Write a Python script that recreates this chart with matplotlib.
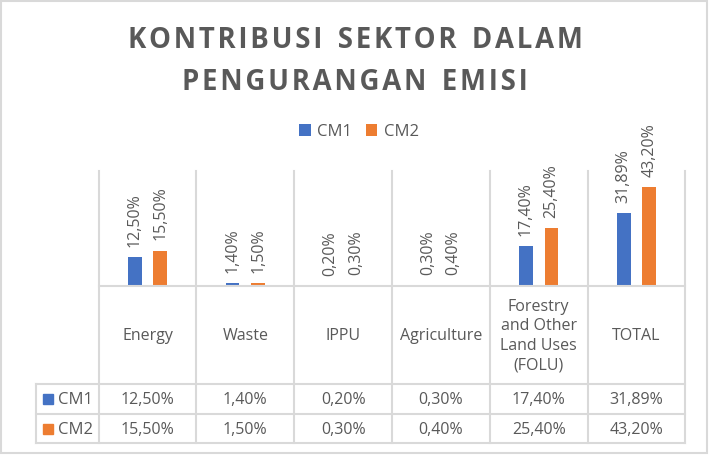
import matplotlib.pyplot as plt
from matplotlib.patches import Rectangle
from matplotlib.transforms import blended_transform_factory

title_lines = ["KONTRIBUSI SEKTOR DALAM", "PENGURANGAN EMISI"]
categories = ["Energy", "Waste", "IPPU", "Agriculture",
              "Forestry\nand Other\nLand Uses\n(FOLU)", "TOTAL"]
cm1 = [12.50, 1.40, 0.20, 0.30, 17.40, 31.89]
cm2 = [15.50, 1.50, 0.30, 0.40, 25.40, 43.20]
series_names = ["CM1", "CM2"]
colors = ["#4472C4", "#ED7D31"]
text_color = "#595959"
line_color = "#D9D9D9"


def pct(v):
    return f"{v:.2f}%".replace(".", ",")


def tracked(s):
    # wide letter spacing like the Excel title
    return "\u200a".join(s).replace(" ", " \u200a")


plt.rcParams["font.family"] = ["Open Sans", "DejaVu Sans"]

W, H = 710, 456
fig = plt.figure(figsize=(W / 100, H / 100), dpi=100)

# outer chart border
fig.patches.append(Rectangle((1.5 / W, 2.5 / H), 705.5 / W, 451.5 / H,
                             transform=fig.transFigure, fill=False,
                             edgecolor=line_color, linewidth=1.5))

for line, yc in zip(title_lines, (41, 83)):
    fig.text(0.5, 1 - yc / H, tracked(line), ha="center", va="center",
             fontsize=19.8, fontweight="bold", color=text_color)

# plot area
left, right, top, base = 98.7, 685.3, 172, 287.3
ax = fig.add_axes([left / W, 1 - base / H, (right - left) / W, (base - top) / H])
ax.set_xlim(-0.5, len(categories) - 0.5)
ax.set_ylim(0, 50)
ax.axis("off")

x = list(range(len(categories)))
width = 0.14
off = 0.13
for vals, dx, c, name in [(cm1, -off, colors[0], series_names[0]),
                          (cm2, off, colors[1], series_names[1])]:
    xs = [i + dx for i in x]
    ax.bar(xs, vals, width=width, color=c, label=name)
    for xi, v in zip(xs, vals):
        ax.annotate(pct(v), (xi, v), xytext=(0, 8), textcoords="offset points",
                    rotation=90, ha="center", va="bottom", fontsize=11.5,
                    color=text_color, annotation_clip=False)

leg = fig.legend(loc="center", bbox_to_anchor=(359 / W, 1 - 132.5 / H),
                 ncol=2, frameon=False, fontsize=12, handlelength=0.7,
                 handleheight=0.7, handletextpad=0.4, columnspacing=0.8)
for t in leg.get_texts():
    t.set_color(text_color)

# data table below the axis
tr = blended_transform_factory(ax.transData, ax.transAxes)
h = base - top
y_cat = (base - 384.7) / h
y_r1 = (base - 415.3) / h
y_r2 = (base - 444.3) / h
x_key = -0.5 - (left - 36) / ((right - left) / len(categories))
n = len(categories)
lk = dict(color=line_color, linewidth=1.5, transform=tr, clip_on=False)

for i in range(n + 1):
    ax.plot([i - 0.5, i - 0.5], [1, y_r2], **lk)
ax.plot([-0.5, n - 0.5], [0, 0], **lk)
for yy in (y_cat, y_r1, y_r2):
    ax.plot([x_key, n - 0.5], [yy, yy], **lk)
ax.plot([x_key, x_key], [y_cat, y_r2], **lk)

for i, cat in enumerate(categories):
    ax.text(i, y_cat / 2, cat, ha="center", va="center", fontsize=11.5,
            color=text_color, transform=tr, linespacing=1.3)
    ax.text(i, (y_cat + y_r1) / 2, pct(cm1[i]), ha="center", va="center",
            fontsize=11.5, color=text_color, transform=tr)
    ax.text(i, (y_r1 + y_r2) / 2, pct(cm2[i]), ha="center", va="center",
            fontsize=11.5, color=text_color, transform=tr)

for (y0, y1), name, c in [((y_cat, y_r1), series_names[0], colors[0]),
                          ((y_r1, y_r2), series_names[1], colors[1])]:
    yc = (y0 + y1) / 2
    fig.patches.append(Rectangle((43 / W, 1 - (base - yc * h + 5) / H), 10 / W, 10 / H,
                                 transform=fig.transFigure, color=c))
    fig.text(58 / W, 1 - (base - yc * h) / H, name, ha="left", va="center",
             fontsize=12, color=text_color)

fig.savefig("out.png", dpi=100)
